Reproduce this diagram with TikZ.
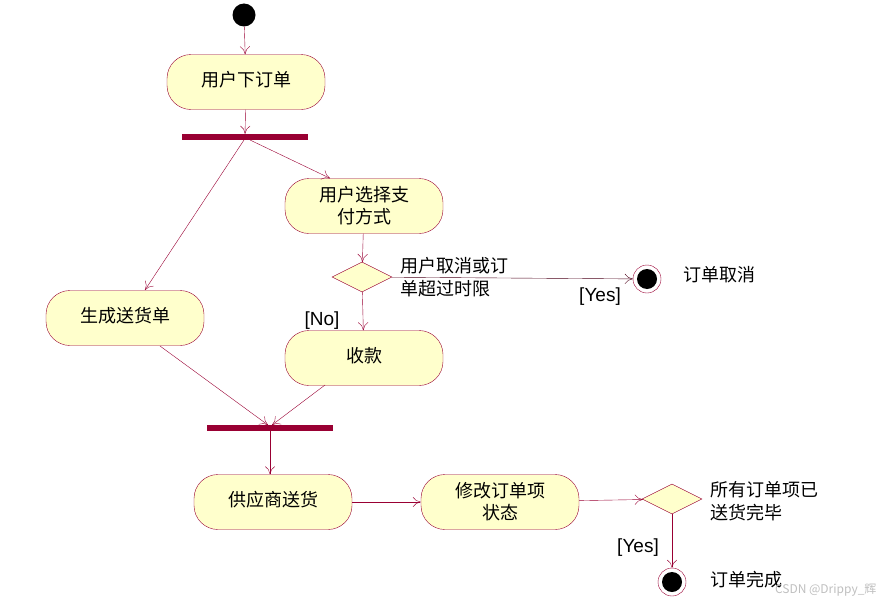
\documentclass[tikz,border=0pt]{standalone}
\usepackage{fontspec}
\setmainfont{Liberation Sans}
\newfontfamily\cjk{Noto Sans CJK SC}
\usetikzlibrary{arrows.meta,shapes.geometric}
\definecolor{mr}{HTML}{990033}
\definecolor{fy}{HTML}{FFFFCC}
\begin{document}
\begin{tikzpicture}[x=1pt,y=-1pt,
  act/.style={draw=mr,fill=fy,rounded corners=24pt,minimum width=158pt,minimum height=55pt,font=\cjk\fontsize{18}{22}\selectfont,align=center,inner sep=0pt},
  bar/.style={fill=mr,minimum width=126pt,minimum height=6pt,inner sep=0pt},
  dec/.style={diamond,draw=mr,fill=fy,minimum width=60pt,minimum height=30pt,inner sep=0pt,aspect=2},
  lbl/.style={font=\cjk\fontsize{18}{23}\selectfont,align=left,inner sep=0pt},
  en/.style={font=\fontsize{19}{22}\selectfont,inner sep=0pt},
  arr/.style={draw=mr,-{To[length=8pt,width=10pt]}},
  endn/.style={circle,draw=mr,minimum size=28pt,inner sep=0pt,path picture={\fill (path picture bounding box.center) circle (10pt);}}]
\useasboundingbox (0,0) rectangle (882,602);
\node[circle,fill=black,minimum size=23pt,inner sep=0pt] (s) at (244,15) {};
\node[act] (a1) at (246,82) {\raisebox{6pt}{用户下订单}};
\node[bar] (f1) at (245,137) {};
\node[act] (a2) at (364,206) {用户选择支\\付方式};
\node[dec] (d1) at (362,277) {};
\node[lbl,anchor=north west] (t1) at (400,257) {用户取消或订\\单超过时限};
\node[endn] (e1) at (647,279) {};
\node[lbl,anchor=west] (t2) at (683,275) {订单取消};
\node[en] (y1) at (600,297) {[Yes]};
\node[en] (n1) at (322,321) {[No]};
\node[act] (a3) at (125,318) {\raisebox{6pt}{生成送货单}};
\node[act] (a4) at (364,358) {\raisebox{6pt}{收款}};
\node[bar] (f2) at (270,428) {};
\node[act] (a5) at (273,502) {\raisebox{6pt}{供应商送货}};
\node[act] (a6) at (500,502) {修改订单项\\状态};
\node[dec] (d2) at (672,499) {};
\node[lbl,anchor=north west] (t3) at (710,481) {所有订单项已\\送货完毕};
\node[en] (y2) at (638,548) {[Yes]};
\node[endn] (e2) at (672,582) {};
\node[lbl,anchor=west] (t4) at (710,580) {订单完成};
\node[font=\cjk\fontsize{12}{14}\selectfont,text=black!25,anchor=east] (w) at (880,590) {CSDN @Drippy\_辉};
\draw[arr] (250,140) coordinate (c1) -- (a2.north west -| 330,0) ;
\draw[arr] (s) -- (a1);
\draw[arr] (a1) -- (f1);
\draw[arr] (244,140) coordinate (c2) -- (145,290) coordinate (c3);
\draw[arr] (a2) -- (d1);
\draw[arr,draw=black!50!mr] (d1) -- (e1);
\draw[arr] (d1) -- (a4);
\draw[arr] (160,346) coordinate (c4) -- (268,425) coordinate (c5);
\draw[arr] (325,385) coordinate (c6) -- (272,425) coordinate (c7);
\draw[arr] (f2) -- (a5.north -| f2);
\draw[arr] (a5) -- (a6);
\draw[arr] (a6) -- (d2);
\draw[arr] (d2) -- (e2);
\end{tikzpicture}
\end{document}
